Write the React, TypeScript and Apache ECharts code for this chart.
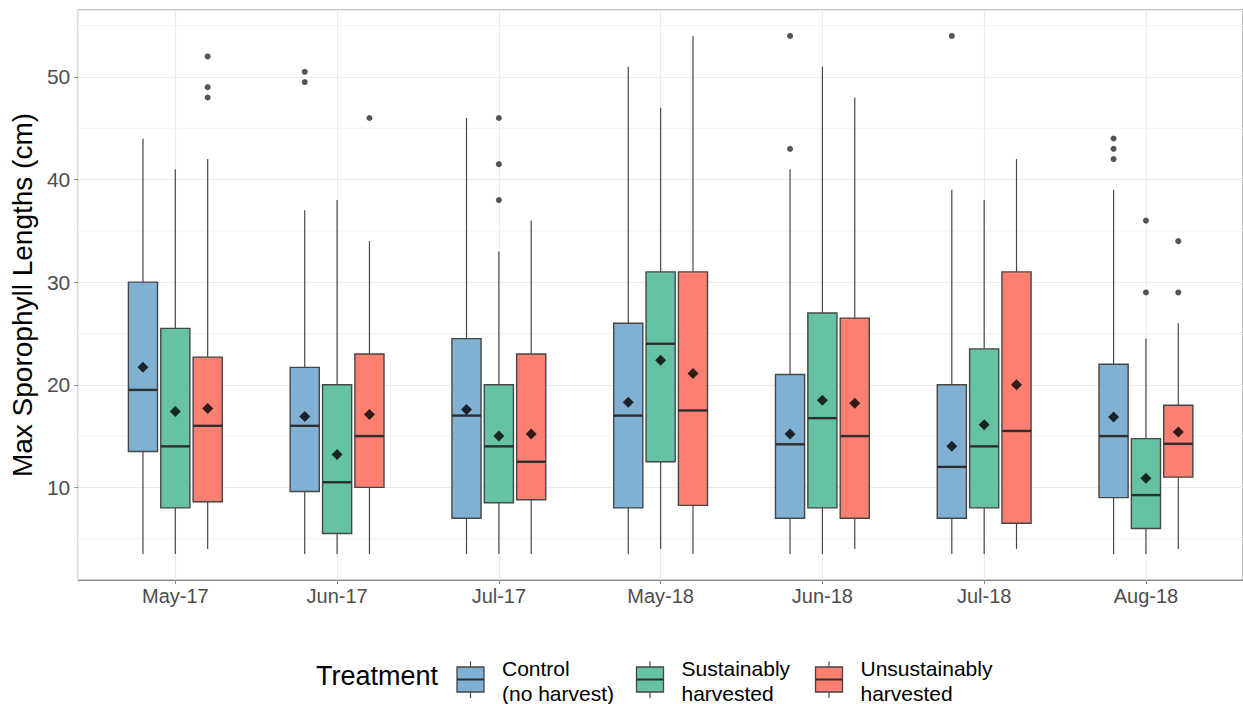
import React, { useEffect, useRef } from 'react';
import * as echarts from 'echarts';

// ---------- data ----------
const categories = ['May-17', 'Jun-17', 'Jul-17', 'May-18', 'Jun-18', 'Jul-18', 'Aug-18'];
const treatments = [
  ['Control', '(no harvest)'],
  ['Sustainably', 'harvested'],
  ['Unsustainably', 'harvested'],
];
const colors = ['#80B1D3', '#66C2A5', '#FB8072'];

// [lower whisker, Q1, median, Q3, upper whisker]
const controlBox = [
  [3.5, 13.5, 19.5, 30, 44],
  [3.5, 9.6, 16, 21.7, 37],
  [3.5, 7, 17, 24.5, 46],
  [3.5, 8, 17, 26, 51],
  [3.5, 7, 14.2, 21, 41],
  [3.5, 7, 12, 20, 39],
  [3.5, 9, 15, 22, 39],
];
const controlMean = [21.7, 16.9, 17.6, 18.3, 15.2, 14.0, 16.85];
const controlOutliers = [
  [1, 50.5], [1, 49.5], [4, 54], [4, 43], [5, 54], [6, 44], [6, 43], [6, 42],
];

const sustBox = [
  [3.5, 8, 14, 25.5, 41],
  [3.5, 5.5, 10.5, 20, 38],
  [3.5, 8.5, 14, 20, 33],
  [4, 12.5, 24, 31, 47],
  [3.5, 8, 16.75, 27, 51],
  [3.5, 8, 14, 23.5, 38],
  [3.5, 6, 9.25, 14.75, 24.5],
];
const sustMean = [17.4, 13.2, 15.0, 22.4, 18.5, 16.1, 10.9];
const sustOutliers = [[2, 46], [2, 41.5], [2, 38], [6, 36], [6, 29]];

const unsustBox = [
  [4, 8.6, 16, 22.7, 42],
  [3.5, 10, 15, 23, 34],
  [3.5, 8.8, 12.5, 23, 36],
  [3.5, 8.25, 17.5, 31, 54],
  [4, 7, 15, 26.5, 48],
  [4, 6.5, 15.5, 31, 42],
  [4, 11, 14.25, 18, 26],
];
const unsustMean = [17.7, 17.1, 15.2, 21.1, 18.2, 20.0, 15.4];
const unsustOutliers = [[0, 52], [0, 49], [0, 48], [1, 46], [6, 34], [6, 29]];

const minorTicks = [5, 15, 25, 35, 45, 55];

// ---------- layout ----------
const FONT = '"Liberation Sans", Arial, Helvetica, sans-serif';
const DODGE = [-0.2, 0, 0.2];
const BOX_WIDTH = 0.18;
const Y_MIN = 0.975;
const Y_MAX = 56.525;

const boxSets = [controlBox, sustBox, unsustBox];
const meanSets = [controlMean, sustMean, unsustMean];
const outlierSets = [controlOutliers, sustOutliers, unsustOutliers];

function makeRenderBox(offset: number, color: string) {
  return (params: any, api: any) => {
    const x = api.value(0) + offset;
    const low = api.coord([x, api.value(1)]);
    const q1 = api.coord([x, api.value(2)]);
    const med = api.coord([x, api.value(3)]);
    const q3 = api.coord([x, api.value(4)]);
    const high = api.coord([x, api.value(5)]);
    const w = api.size([BOX_WIDTH, 0])[0];
    const cx = low[0];
    const whisker = { stroke: '#484848', lineWidth: 1.2 };
    return {
      type: 'group',
      children: [
        { type: 'line', shape: { x1: cx, y1: high[1], x2: cx, y2: q3[1] }, style: whisker },
        { type: 'line', shape: { x1: cx, y1: q1[1], x2: cx, y2: low[1] }, style: whisker },
        {
          type: 'rect',
          shape: { x: cx - w / 2, y: q3[1], width: w, height: q1[1] - q3[1] },
          style: { fill: color, stroke: '#464646', lineWidth: 1.4 },
        },
        {
          type: 'line',
          shape: { x1: cx - w / 2, y1: med[1], x2: cx + w / 2, y2: med[1] },
          style: { stroke: '#2e2e2e', lineWidth: 2.4 },
        },
      ],
    };
  };
}

function renderMinorGrid(params: any, api: any) {
  const cs = params.coordSys;
  const y = api.coord([0, api.value(0)])[1];
  return {
    type: 'line',
    silent: true,
    shape: { x1: cs.x, y1: y, x2: cs.x + cs.width, y2: y },
    style: { stroke: '#f3f3f3', lineWidth: 1 },
  };
}

function buildOption() {
  const series: any[] = [];
  series.push({
    type: 'custom',
    z: 1,
    silent: true,
    renderItem: renderMinorGrid,
    encode: { y: 0 },
    data: minorTicks.map((v) => [v]),
  });
  boxSets.forEach((set, k) => {
    series.push({
      type: 'custom',
      name: treatments[k].join(' '),
      z: 2,
      renderItem: makeRenderBox(DODGE[k], colors[k]),
      encode: { x: 0, y: [1, 2, 3, 4, 5] },
      data: set.map((b, i) => [i, ...b]),
    });
  });
  outlierSets.forEach((set, k) => {
    series.push({
      type: 'scatter',
      z: 4,
      symbol: 'circle',
      symbolSize: 6,
      itemStyle: { color: '#2b2b2b' },
      data: set.map(([i, v]) => [i + DODGE[k], v]),
    });
  });
  meanSets.forEach((set, k) => {
    series.push({
      type: 'scatter',
      z: 5,
      symbol: 'diamond',
      symbolSize: 11,
      itemStyle: { color: '#000000' },
      data: set.map((m, i) => [i + DODGE[k], m]),
    });
  });

  const legendEls: any[] = [
    {
      type: 'text',
      x: 316,
      y: 676,
      style: { text: 'Treatment', fontSize: 27, fontFamily: FONT, fill: '#000', verticalAlign: 'middle', align: 'left' },
    },
  ];
  const keyX = [470.5, 650, 829];
  treatments.forEach((lines, k) => {
    const cx = keyX[k];
    legendEls.push(
      { type: 'line', shape: { x1: cx, y1: 661.5, x2: cx, y2: 698 }, style: { stroke: '#484848', lineWidth: 1.2 } },
      { type: 'rect', shape: { x: cx - 13.5, y: 667, width: 27, height: 25 }, style: { fill: colors[k], stroke: '#464646', lineWidth: 1.3 } },
      { type: 'line', shape: { x1: cx - 13.5, y1: 679.5, x2: cx + 13.5, y2: 679.5 }, style: { stroke: '#2e2e2e', lineWidth: 2 } },
    );
    lines.forEach((ln, j) => {
      legendEls.push({
        type: 'text',
        x: cx + 31.5,
        y: 668.5 + j * 24.5,
        style: { text: ln, fontSize: 21, fontFamily: FONT, fill: '#000', verticalAlign: 'middle', align: 'left' },
      });
    });
  });

  return {
    animation: false,
    backgroundColor: '#ffffff',
    textStyle: { fontFamily: FONT },
    grid: {
      left: 73.3,
      top: 10,
      width: 1173.7,
      height: 570,
      show: true,
      borderColor: '#8f8f8f',
      borderWidth: 1.2,
      backgroundColor: 'transparent',
    },
    xAxis: {
      type: 'value',
      min: -0.6,
      max: 6.6,
      splitNumber: 7,
      minInterval: 1,
      maxInterval: 1,
      axisLine: { show: true, onZero: false, lineStyle: { color: '#8f8f8f', width: 1.2 } },
      axisTick: { show: true, length: 4, lineStyle: { color: '#8f8f8f' } },
      axisLabel: {
        show: true,
        margin: 6,
        fontSize: 20,
        color: '#4d4d4d',
        fontFamily: FONT,
        showMinLabel: false,
        showMaxLabel: false,
        formatter: (v: number) => {
          const r = Math.round(v);
          return Math.abs(v - r) < 1e-6 && r >= 0 && r < categories.length ? categories[r] : '';
        },
      },
      splitLine: { show: true, lineStyle: { color: '#ebebeb', width: 1.1 } },
    },
    yAxis: {
      type: 'value',
      min: Y_MIN,
      max: Y_MAX,
      splitNumber: 5,
      minInterval: 10,
      maxInterval: 10,
      name: 'Max Sporophyll Lengths (cm)',
      nameLocation: 'middle',
      nameGap: 34,
      nameRotate: 90,
      nameTextStyle: { fontSize: 28, color: '#000', fontFamily: FONT },
      axisLine: { show: false, onZero: false },
      axisTick: { show: true, length: 4, lineStyle: { color: '#8f8f8f' } },
      axisLabel: {
        show: true,
        margin: 8,
        fontSize: 21,
        color: '#4d4d4d',
        fontFamily: FONT,
        showMinLabel: false,
        showMaxLabel: false,
        formatter: (v: number) => (Math.abs(v % 10) < 1e-6 ? String(v) : ''),
      },
      splitLine: { show: true, lineStyle: { color: '#ebebeb', width: 1.1 } },
    },
    graphic: legendEls,
    series,
  };
}

export default function App() {
  const ref = useRef<HTMLDivElement>(null);
  useEffect(() => {
    const chart = echarts.init(ref.current as HTMLDivElement, null, { renderer: 'svg' });
    chart.setOption(buildOption() as any);
    return () => chart.dispose();
  }, []);
  return (
    <div
      ref={ref}
      style={{ position: 'absolute', left: 0, top: 0, width: 1243, height: 704, background: '#fff' }}
    />
  );
}
